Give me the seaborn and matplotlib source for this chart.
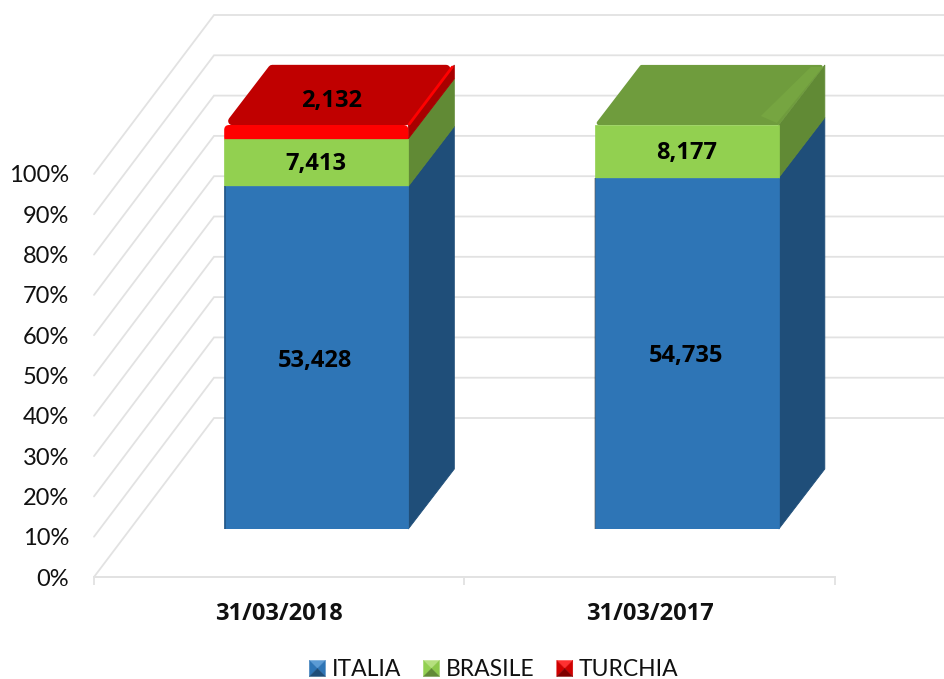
import numpy as np
import pandas as pd
import matplotlib
matplotlib.use("Agg")
import matplotlib.pyplot as plt
from matplotlib.patches import Patch, Polygon, FancyBboxPatch
from matplotlib.legend_handler import HandlerBase
import seaborn as sns

dates = ["31/03/2018", "31/03/2017"]
series_names = ["ITALIA", "BRASILE", "TURCHIA"]
italia = [53428, 54735]
brasile = [7413, 8177]
turchia = [2132, 0]
percent_ticks = list(range(0, 101, 10))

front_colors = ["#2e75b6", "#92d050", "#ff0000"]
side_colors = ["#1f4e79", "#618a35", "#a80000"]
top_colors = ["#2e75b6", "#6f9c3d", "#c00000"]
legend_shades = [("#5b9bd5", "#2e75b6", "#2e75b6", "#1f4e79"),
                 ("#b5e07e", "#92d050", "#8cc84a", "#618a35"),
                 ("#ff3030", "#d00000", "#d00000", "#800000")]
grid_color = "#e2e2e2"

W, H = 945, 679
sns.set_theme(style="white")
plt.rcParams["font.family"] = ["Lato", "DejaVu Sans"]
plt.rcParams["axes.unicode_minus"] = False
BOLD_FONT = ["Open Sans", "DejaVu Sans"]

fig = plt.figure(figsize=(W / 100, H / 100), dpi=100, facecolor="white")

# Frame axes: front plane of the chart floor and value scale
ax = fig.add_axes([94 / W, 1 - 577 / H, 741 / W, 403 / H])
ax.set_xlim(-0.5, 1.5)
ax.set_ylim(0, 100)
ax.patch.set_alpha(0)
ux = 2 / 741
uy = 100 / 403
wall_dx, wall_dy = 120 * ux, 159 * uy
for v in percent_ticks:
    ax.plot([-0.5, -0.5 + wall_dx, 1.5 + wall_dx], [v, v + wall_dy, v + wall_dy],
            color=grid_color, lw=1.3, clip_on=False, zorder=1, solid_joinstyle="miter")
for s in ["top", "left", "right"]:
    ax.spines[s].set_visible(False)
ax.spines["bottom"].set_color(grid_color)
ax.spines["bottom"].set_linewidth(1.4)
ax.set_yticks(percent_ticks)
ax.set_yticklabels([f"{v}%" for v in percent_ticks], fontsize=17, color="#111111")
ax.tick_params(axis="y", length=0, pad=18)
ax.set_xticks([0, 1])
ax.set_xticklabels(dates, fontsize=17, fontweight="bold", family=BOLD_FONT, color="#111111")
ax.set_xticks([-0.5, 0.5, 1.5], minor=True)
ax.tick_params(axis="x", which="major", length=0, pad=18)
ax.tick_params(axis="x", which="minor", length=5.8, width=1.3, color=grid_color, bottom=True)

# Bars axes: the bars stand part-way into the chart depth
front = fig.add_axes([131 / W, 1 - 529 / H, 741 / W, 404 / H])
front.patch.set_alpha(0)

raw = np.array([italia, brasile, turchia], dtype=float)
pct = raw / raw.sum(axis=0) * 100
df = pd.DataFrame(pct.T, columns=series_names)
df.insert(0, "date", dates)

bottom = np.zeros(len(dates))
containers = []
for i, name in enumerate(series_names):
    sns.barplot(data=df, x="date", y=name, ax=front, color=front_colors[i],
                saturation=1, width=0.497, bottom=bottom, zorder=5 + (2 - i) * 0.1,
                linewidth=0.5, edgecolor=front_colors[i])
    containers.append(front.containers[-1])
    bottom = bottom + pct[i]
front.set_xlim(-0.5, 1.5)
front.set_ylim(0, 100)
front.axis("off")

fx = 2 / 741
fy = 100 / 404
DX, DY = 46 * fx, 60 * fy
SLOPE = 46 / 60

for i, cont in enumerate(containers):
    for j, rect in enumerate(cont.patches):
        rect.set_joinstyle("round")
        if raw[i, j] == 0:
            rect.set_visible(False)
            continue
        x0, x1 = rect.get_x(), rect.get_x() + rect.get_width()
        y0, y1 = rect.get_y(), rect.get_y() + rect.get_height()
        front.add_patch(Polygon([(x1, y0), (x1 + DX, y0 + DY), (x1 + DX, y1 + DY), (x1, y1)],
                                closed=True, fc=side_colors[i], ec=side_colors[i], lw=0.6,
                                clip_on=False, zorder=3))
        # darker left edge of the bevel on the front face
        if i == 0:
            front.plot([x0 + 0.8 * fx] * 2, [y0, y1], color="black", alpha=0.22, lw=1.4,
                       solid_capstyle="butt", clip_on=False, zorder=5.5)
        is_top = i == len(series_names) - 1 or raw[i + 1:, j].sum() == 0
        if is_top:
            # inset the top face so that a thick round stroke rounds its corners
            ins = 4 if i == 2 else 2
            lw = 6 if i == 2 else 3
            k = ins * 1.26
            y_lo, y_hi = ins, 60 - ins
            top = [(x0 + (SLOPE * y_lo + k) * fx, y1 + y_lo * fy),
                   (x0 + (SLOPE * y_hi + k) * fx, y1 + y_hi * fy),
                   (x1 + (SLOPE * y_hi - k) * fx, y1 + y_hi * fy),
                   (x1 + (SLOPE * y_lo - k) * fx, y1 + y_lo * fy)]
            front.add_patch(Polygon(top, closed=True, fc=top_colors[i], ec=top_colors[i],
                                    lw=lw, joinstyle="round", clip_on=False, zorder=4))
            if i == 1:
                # lighter mitred bevel towards the back right corner
                bev = [(x1 - 2 * fx, y1 + 2 * fy), (x1 + DX - 2 * fx, y1 + DY - 2 * fy),
                       (x1 + DX - 14 * fx, y1 + DY - 2 * fy), (x1 - 18 * fx, y1 + 9 * fy)]
                front.add_patch(Polygon(bev, closed=True, fc="#76a541", ec="none",
                                        clip_on=False, zorder=4.5))
            if i == 2:
                # rounded front strip of the bevelled cap
                rect.set_visible(False)
                front.add_patch(FancyBboxPatch(
                    (x0, y0 - 4 * fy), x1 - x0, y1 - y0 + 4 * fy,
                    boxstyle=f"round,pad=0,rounding_size={5 * fx}",
                    mutation_aspect=fy / fx, fc=front_colors[i], ec="none",
                    clip_on=False, zorder=5))
                # bright bevel on the right hand edge of the top
                front.plot([x1 + 1 * fx, x1 + DX - 2 * fx], [y1 + 1 * fy, y1 + DY - 2 * fy],
                           color="#ff0000", lw=2.0, solid_capstyle="round",
                           clip_on=False, zorder=4.6)

# Data labels
offsets = {0: (-1, -3), 1: (0, -2), 2: (15, 31)}
for i, cont in enumerate(containers):
    for j, rect in enumerate(cont.patches):
        if raw[i, j] == 0:
            continue
        cx = rect.get_x() + rect.get_width() / 2
        cy = rect.get_y() + rect.get_height() / 2
        front.annotate(f"{int(raw[i, j]):,}", xy=(cx, cy), xytext=offsets[i],
                       textcoords="offset pixels", ha="center", va="center",
                       fontsize=17, fontweight="bold", family=BOLD_FONT, color="black",
                       zorder=10, annotation_clip=False)


class PyramidHandler(HandlerBase):
    """Legend key drawn as a small bevelled square."""
    def __init__(self, shades):
        super().__init__()
        self.shades = shades

    def create_artists(self, legend, orig_handle, xdescent, ydescent, width, height, fontsize, trans):
        t, l, r, b = self.shades[orig_handle.get_label()]
        x0, y0 = -xdescent, -ydescent
        x1, y1 = x0 + width, y0 + height
        c = ((x0 + x1) / 2, (y0 + y1) / 2)
        faces = [([(x0, y1), (x1, y1), c], t), ([(x0, y0), (x0, y1), c], l),
                 ([(x1, y0), (x1, y1), c], r), ([(x0, y0), (x1, y0), c], b)]
        return [Polygon(p, closed=True, fc=col, ec=col, lw=0.3, transform=trans) for p, col in faces]


handles = [Patch(label=n) for n in series_names]
shade_map = dict(zip(series_names, legend_shades))
handler = PyramidHandler(shade_map)
leg = fig.legend(handles=handles, labels=series_names, loc="center",
                 bbox_to_anchor=(494 / W, 1 - 670 / H), ncol=3, frameon=False,
                 fontsize=16.5, handlelength=0.7, handleheight=0.7, handletextpad=0.27,
                 columnspacing=0.98, labelcolor="#111111",
                 handler_map={h: handler for h in handles}, borderpad=0)

fig.savefig("out.png", dpi=100, facecolor="white")
